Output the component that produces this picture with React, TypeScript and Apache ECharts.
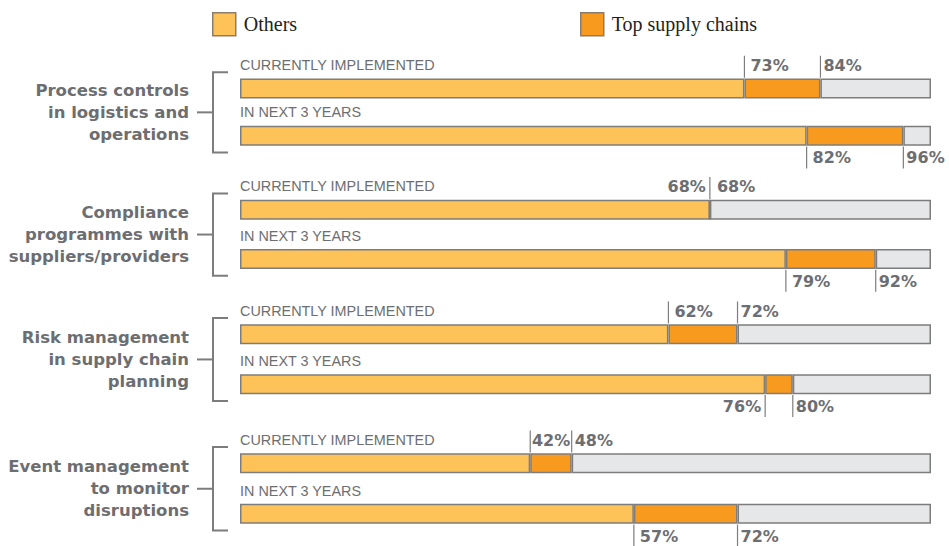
import React, { useEffect, useRef } from 'react';
import * as echarts from 'echarts';

// ---- data ----
const groupLabels = [
  'Process controls\nin logistics and\noperations',
  'Compliance\nprogrammes with\nsuppliers/providers',
  'Risk management\nin supply chain\nplanning',
  'Event management\nto monitor\ndisruptions',
];
const rowLabels = ['CURRENTLY IMPLEMENTED', 'IN NEXT 3 YEARS'];
const othersCurrent = [73, 68, 62, 42];
const othersNext = [82, 79, 76, 57];
const totalCurrent = [84, 68, 72, 48];
const totalNext = [96, 92, 80, 72];
const legendNames = ['Others', 'Top supply chains'];

// ---- layout / style ----
const GRID_TOP = [64.9, 185, 309.2, 437.8];
const GRID_H = [94.4, 98.6, 100, 101.4];
const C_OTHERS = '#fdc358';
const C_TOP = '#f89a1e';
const C_REST = '#e6e7e8';
const C_BORDER = '#7d7d7d';
const C_TEXT = '#6d6e71';
const BAR_W = 20;
const HALF = 10.75;
const VFONT = 16;
const VTEXT_W = 2.394 * VFONT;

function pct(v: number) {
  return Math.round(v) + '%';
}

function renderItem(params: any, api: any) {
  const o = api.value(0);
  const t = api.value(1);
  const r = api.value(2);
  const p1 = api.coord([o, r]);
  const p2 = api.coord([t, r]);
  const x0 = api.coord([0, r])[0];
  const y = p1[1];
  const above = r === 0;
  const edge = above ? y - HALF : y + HALF;
  const lineEnd = above ? edge - 22 : edge + 22;
  const ty = above ? y - HALF - 12 : y + HALF + 11.5;
  const font = 'bold ' + VFONT + 'px "DejaVu Sans"';
  const children: any[] = [];
  children.push({
    type: 'text',
    style: {
      x: x0,
      y: y - HALF - 12.5,
      text: rowLabels[r],
      font: '14.4px "Liberation Sans"',
      fill: C_TEXT,
      align: 'left',
      verticalAlign: 'middle',
    },
  });
  const addLine = (x: number) =>
    children.push({
      type: 'line',
      shape: { x1: x, y1: edge, x2: x, y2: lineEnd },
      style: { stroke: C_BORDER, lineWidth: 1.2 },
    });
  const addText = (x: number, txt: string, align: string) =>
    children.push({
      type: 'text',
      style: { x, y: ty, text: txt, font, fill: C_TEXT, align, verticalAlign: 'middle' },
    });
  const gap = p2[0] - p1[0];
  if (gap < 0.5) {
    addLine(p1[0]);
    addText(p1[0] - 4, pct(o), 'right');
    addText(p1[0] + 7, pct(t), 'left');
  } else {
    addLine(p1[0]);
    addLine(p2[0]);
    if (gap >= VTEXT_W + 3) {
      addText(p1[0] + Math.min(6, gap - VTEXT_W - 1.5), pct(o), 'left');
    } else {
      addText(p1[0] - 4, pct(o), 'right');
    }
    addText(p2[0] + 3, pct(t), 'left');
  }
  return { type: 'group', children };
}

export default function App() {
  const ref = useRef<HTMLDivElement>(null);
  useEffect(() => {
    if (!ref.current) return;
    const chart = echarts.init(ref.current, null, { renderer: 'svg' });
    const grid = GRID_TOP.map((t, i) => ({ left: 240, right: 18, top: t, height: GRID_H[i] }));
    const xAxis = groupLabels.map((_, i) => ({ type: 'value', gridIndex: i, min: 0, max: 100, show: false }));
    const yAxis = groupLabels.map((_, i) => ({
      type: 'category',
      gridIndex: i,
      data: rowLabels,
      inverse: true,
      show: false,
    }));
    const series: any[] = [];
    groupLabels.forEach((_, i) => {
      const common = {
        type: 'bar',
        xAxisIndex: i,
        yAxisIndex: i,
        stack: 's' + i,
        barWidth: BAR_W,
        silent: true,
      };
      series.push({
        ...common,
        name: legendNames[0],
        data: [othersCurrent[i], othersNext[i]],
        itemStyle: { color: C_OTHERS, borderColor: C_BORDER, borderWidth: 1.5 },
      });
      series.push({
        ...common,
        name: legendNames[1],
        data: [totalCurrent[i] - othersCurrent[i], totalNext[i] - othersNext[i]],
        itemStyle: { color: C_TOP, borderColor: C_BORDER, borderWidth: 1.5 },
      });
      series.push({
        ...common,
        name: 'Rest',
        data: [100 - totalCurrent[i], 100 - totalNext[i]],
        itemStyle: { color: C_REST, borderColor: C_BORDER, borderWidth: 1.5 },
      });
      series.push({
        type: 'custom',
        xAxisIndex: i,
        yAxisIndex: i,
        silent: true,
        z: 10,
        encode: { x: [0, 1], y: 2 },
        data: [
          [othersCurrent[i], totalCurrent[i], 0],
          [othersNext[i], totalNext[i], 1],
        ],
        renderItem,
      });
    });
    const graphic = groupLabels.map((g, i) => {
      const c1 = GRID_TOP[i] + GRID_H[i] / 4;
      const c2 = GRID_TOP[i] + (3 * GRID_H[i]) / 4;
      const top = c1 - HALF - 5.5;
      const bottom = c2 + HALF + 6;
      const mid = (top + bottom) / 2;
      return {
        type: 'group',
        children: [
          {
            type: 'text',
            x: 189,
            y: mid,
            style: {
              text: g,
              font: 'bold 16.5px "DejaVu Sans"',
              fill: C_TEXT,
              align: 'right',
              verticalAlign: 'middle',
              lineHeight: 22,
            },
          },
          {
            type: 'polyline',
            shape: { points: [[228, top], [213, top], [213, bottom], [228, bottom]] },
            style: { stroke: C_BORDER, lineWidth: 2, fill: null },
          },
          {
            type: 'line',
            shape: { x1: 197, y1: mid, x2: 213, y2: mid },
            style: { stroke: C_BORDER, lineWidth: 2 },
          },
        ],
      };
    });
    const legendCommon = {
      padding: 0,
      icon: 'rect',
      itemWidth: 23,
      itemHeight: 23,
      selectedMode: false,
      textStyle: { fontFamily: '"Liberation Serif"', fontSize: 20, color: '#231f20', padding: [0, 0, 0, 3] },
      itemStyle: { borderColor: '#8b7d6b', borderWidth: 1.5 },
    };
    chart.setOption({
      animation: false,
      legend: [
        { ...legendCommon, data: [legendNames[0]], left: 212, top: 12 },
        { ...legendCommon, data: [legendNames[1]], left: 580, top: 12 },
      ],
      grid,
      xAxis,
      yAxis,
      series,
      graphic,
    });
    return () => chart.dispose();
  }, []);
  return (
    <div
      ref={ref}
      style={{ position: 'fixed', left: 0, top: 0, width: 949, height: 546, background: '#fff' }}
    />
  );
}
